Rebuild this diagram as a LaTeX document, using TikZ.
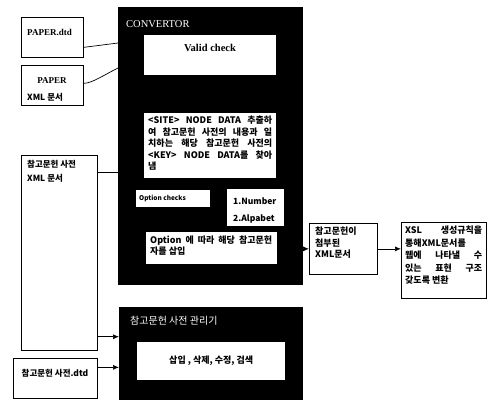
\documentclass[tikz,border=0pt]{standalone}
\usepackage{fontspec}
\setmainfont{Liberation Serif}
\newfontfamily\kr{Noto Sans CJK KR}
\usetikzlibrary{arrows.meta,positioning}
\newcommand{\jl}[2]{\makebox[#1][s]{#2}}

\begin{document}
\begin{tikzpicture}[x=1pt,y=-1pt,
  box/.style={draw, line width=0.7pt, anchor=north west, inner sep=0pt},
  blk/.style={fill=black, anchor=north west, inner sep=0pt},
  wbox/.style={fill=white, anchor=north west, inner sep=0pt},
  txt/.style={inner sep=0pt, font=\kr\bfseries\fontsize{8.5}{11.5}\selectfont},
  lbl/.style={inner sep=0pt, font=\bfseries\fontsize{9}{11}\selectfont},
  link/.style={line width=0.7pt},
  arr/.style={link, -{Latex[length=6pt,width=5pt]}}]
\useasboundingbox (0,0) rectangle (489,400);

% boxes
\node[box, minimum width=62pt, minimum height=40pt] (paperdtd) at (21,17) {};
\node[box, minimum width=62pt, minimum height=40pt] (paperxml) at (21,65) {};
\node[box, minimum width=76pt, minimum height=195pt] (refxml) at (21,155) {};
\node[box, minimum width=84pt, minimum height=40pt] (refdtd) at (13,358) {};
\node[blk, minimum width=185pt, minimum height=278pt] (conv) at (118,7) {};
\node[wbox, minimum width=132pt, minimum height=40pt] (valid) at (144,35) {};
\node[wbox, minimum width=132pt, minimum height=65pt] (site) at (144,113) {};
\node[wbox, minimum width=74pt, minimum height=17pt] (optchk) at (136,190) {};
\node[wbox, minimum width=57pt, minimum height=37pt] (numalp) at (227,189) {};
\node[wbox, minimum width=131pt, minimum height=32pt] (optins) at (146,232) {};
\node[blk, minimum width=184pt, minimum height=93pt] (mgr) at (119,307) {};
\node[wbox, minimum width=148pt, minimum height=38pt] (mgrops) at (137,342) {};
\node[box, minimum width=68pt, minimum height=51pt] (attached) at (309,223) {};
\node[box, minimum width=85pt, minimum height=76pt] (xsl) at (401,222) {};

% texts
\node[lbl, anchor=base west] (tpaperdtd) at (27,35) {PAPER.dtd};
\node[lbl, anchor=base] (tpaper) at (52,83) {PAPER};
\node[txt, anchor=base west] (tpaperxml) at (27,100) {XML 문서};
\node[txt, anchor=north west, align=left, font=\kr\bfseries\fontsize{8.5}{14}\selectfont] (trefxml) at (27,160) {참고문헌 사전\\XML 문서};
\node[txt, anchor=base] (trefdtd) at (55,376) {참고문헌 사전.dtd};
\node[anchor=base west, inner sep=0pt, text=white, font=\fontsize{10.5}{12}\selectfont] (tconv) at (126,27) {CONVERTOR};
\node[lbl, anchor=base, font=\bfseries\fontsize{10.5}{12}\selectfont] (tvalid) at (210,51) {Valid check};
\node[txt, anchor=north west, align=left, font=\kr\bfseries\fontsize{9}{11.5}\selectfont] (tsite) at (148,116) {\jl{124pt}{<SITE> NODE DATA 추출하}\\\jl{124pt}{여 참고문헌 사전의 내용과 일}\\\jl{124pt}{치하는 해당 참고문헌 사전의}\\\jl{124pt}{<KEY> NODE DATA를 찾아}\\냄};
\node[txt, anchor=west, font=\kr\bfseries\fontsize{6.5}{8}\selectfont] (toptchk) at ([xshift=3pt]optchk.west) {Option checks};
\node[txt, anchor=base west] (tnum) at (233,204) {1.Number};
\node[txt, anchor=base west] (talp) at (233,221) {2.Alpabet};
\node[txt, anchor=north west, align=left, font=\kr\bfseries\fontsize{9}{11}\selectfont] (toptins) at (150,236) {\jl{122pt}{Option 에 따라 해당 참고문헌}\\자를 삽입};
\node[anchor=base west, inner sep=0pt, text=white, font=\kr\fontsize{10}{12}\selectfont] (tmgr) at (130,324) {참고문헌 사전 관리기};
\node[txt, font=\kr\bfseries\fontsize{9}{11}\selectfont] (tmgrops) at (mgrops.center) {삽입 , 삭제, 수정, 검색};
\node[txt, anchor=north west, align=left, font=\kr\bfseries\fontsize{9}{11.5}\selectfont] (tattached) at (315,227) {참고문헌이\\첨부된\\XML문서};
\node[txt, anchor=north west, align=left, font=\kr\bfseries\fontsize{9}{12.5}\selectfont] (txsl) at (405,226) {\jl{77pt}{XSL 생성규칙을}\\통해XML문서를\\\jl{77pt}{웹에 나타낼 수}\\\jl{77pt}{있는 표현 구조}\\갖도록 변환};

% connectors
\draw[link] ([yshift=-10pt]paperdtd.east) -- ([yshift=-36pt]conv.north west);
\draw[link] ([yshift=2pt]paperxml.east) .. controls +(8,0) and +(-14,7) .. ([yshift=-61pt]conv.north west);
\draw[link] ([yshift=-17pt]refxml.north east) coordinate (r1) -- (r1 -| conv.west);
\draw[arr] ([yshift=14pt]refxml.south east) coordinate (r2) -- (r2 -| mgr.west);
\draw[arr] ([yshift=11pt]refdtd.east) coordinate (r3) -- (r3 -| mgr.west);
\draw[arr] (attached.west -| conv.east) -- (attached.west);
\draw[arr] (attached.east) -- (attached.east -| xsl.west);
\end{tikzpicture}
\end{document}
